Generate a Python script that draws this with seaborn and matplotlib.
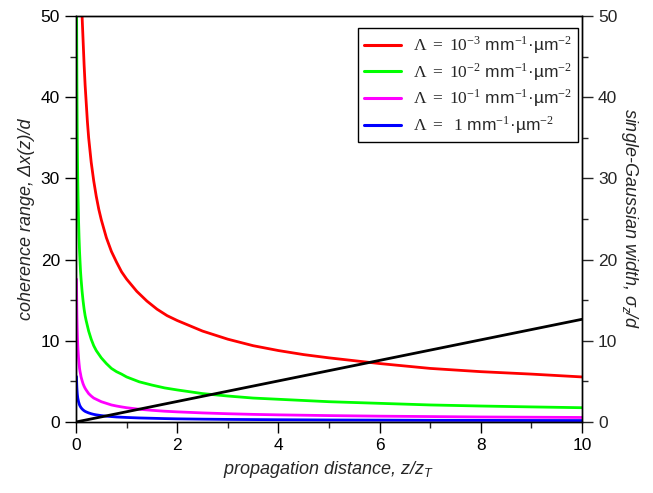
import pandas as pd
import matplotlib.pyplot as plt
import seaborn as sns
from matplotlib import font_manager
from matplotlib.ticker import MultipleLocator

# values
z_red = [0.12, 0.13, 0.14, 0.16, 0.18, 0.2, 0.225, 0.25, 0.275, 0.3, 0.35, 0.4, 0.45, 0.5, 0.6,
         0.7, 0.8, 0.9, 1.0, 1.2, 1.4, 1.6, 1.8, 2, 2.5, 3, 3.5, 4, 4.5, 5, 6, 7, 8, 9, 10]
dx_red = [50, 48.5, 47, 44, 41.5, 39.5, 37, 35, 33.5, 32, 29.7, 27.8, 26.2, 24.9, 22.7,
          21, 19.7, 18.5, 17.6, 16.1, 14.9, 13.9, 13.1, 12.5, 11.2, 10.2, 9.4, 8.8, 8.3, 7.9,
          7.2, 6.6, 6.2, 5.9, 5.55]

z_green = [0.012, 0.014, 0.016, 0.018, 0.02, 0.025, 0.03, 0.035, 0.04, 0.05, 0.06, 0.07, 0.08,
           0.09, 0.1, 0.12, 0.14, 0.16, 0.18, 0.2, 0.25, 0.3, 0.35, 0.4, 0.5, 0.6, 0.7, 0.8, 0.9,
           1, 1.25, 1.5, 1.75, 2, 2.5, 3, 3.5, 4, 5, 6, 7, 8, 9, 10]
dx_green = [50, 47, 44, 41.5, 39.5, 35, 32, 29.7, 27.8, 24.9, 22.7, 21, 19.7,
            18.5, 17.6, 16.1, 14.9, 13.9, 13.1, 12.5, 11.2, 10.2, 9.4, 8.8, 7.9, 7.2, 6.6, 6.2, 5.9,
            5.55, 4.95, 4.55, 4.2, 3.95, 3.5, 3.2, 2.95, 2.8, 2.5, 2.3, 2.1, 1.97, 1.86, 1.76]

z_small = [0.01, 0.012, 0.014, 0.016, 0.018, 0.02, 0.025, 0.03, 0.035, 0.04, 0.05, 0.06, 0.07,
           0.08, 0.09, 0.1, 0.12, 0.14, 0.16, 0.18, 0.2, 0.25, 0.3, 0.35, 0.4, 0.5, 0.6, 0.7,
           0.8, 0.9, 1, 1.25, 1.5, 1.75, 2, 2.5, 3, 3.5, 4, 5, 6, 7, 8, 9, 10]
dx_magenta = [17.6, 16.1, 14.9, 13.9, 13.1, 12.5, 11.2, 10.2, 9.4, 8.8, 7.9, 7.2, 6.6,
              6.2, 5.9, 5.55, 5.1, 4.7, 4.4, 4.15, 3.95, 3.5, 3.2, 2.95, 2.8, 2.5, 2.3, 2.1,
              1.97, 1.86, 1.76, 1.57, 1.44, 1.33, 1.25, 1.12, 1.02, 0.94, 0.88, 0.79, 0.72,
              0.67, 0.62, 0.59, 0.56]
dx_blue = [5.6, 5.1, 4.7, 4.4, 4.15, 3.95, 3.5, 3.2, 2.95, 2.8, 2.5, 2.3, 2.1,
           1.97, 1.86, 1.76, 1.61, 1.49, 1.39, 1.31, 1.25, 1.12, 1.02, 0.94, 0.88, 0.79, 0.72,
           0.67, 0.62, 0.59, 0.56, 0.5, 0.46, 0.42, 0.39, 0.35, 0.32, 0.3, 0.28, 0.25, 0.23,
           0.21, 0.2, 0.19, 0.18]

z_width = [0, 2, 4, 6, 8, 10]
sigma_width = [0, 2.53, 5.06, 7.59, 10.12, 12.65]

labels = [r'$\Lambda\;=\;10^{-3}$ mm$^{-1}$·µm$^{-2}$',
          r'$\Lambda\;=\;10^{-2}$ mm$^{-1}$·µm$^{-2}$',
          r'$\Lambda\;=\;10^{-1}$ mm$^{-1}$·µm$^{-2}$',
          r'$\Lambda\;=\;\;1$ mm$^{-1}$·µm$^{-2}$']
colors = ['#ff0000', '#00ff00', '#ff00ff', '#0000ff']

# long table for seaborn
df = pd.concat([
    pd.DataFrame({'z': z_red, 'dx': dx_red, 'lam': labels[0]}),
    pd.DataFrame({'z': z_green, 'dx': dx_green, 'lam': labels[1]}),
    pd.DataFrame({'z': z_small, 'dx': dx_magenta, 'lam': labels[2]}),
    pd.DataFrame({'z': z_small, 'dx': dx_blue, 'lam': labels[3]}),
])
df_w = pd.DataFrame({'z': z_width, 'sigma': sigma_width})

sns.set_style('ticks')
names = {f.name for f in font_manager.fontManager.ttflist}
narrow = 'Liberation Sans Narrow' if 'Liberation Sans Narrow' in names else 'Liberation Sans'
plt.rcParams['font.family'] = [narrow, 'DejaVu Sans']
plt.rcParams['mathtext.fontset'] = 'custom'
plt.rcParams['mathtext.rm'] = 'Liberation Serif'
plt.rcParams['mathtext.it'] = narrow + ':italic'
plt.rcParams['mathtext.sf'] = 'Liberation Sans'
plt.rcParams['axes.edgecolor'] = 'black'
plt.rcParams['axes.linewidth'] = 1.0

fig = plt.figure(figsize=(6.53, 4.93), dpi=100)
ax = fig.add_axes([0.1164, 0.144, 0.7749, 0.8235])

sns.lineplot(data=df, x='z', y='dx', hue='lam', palette=colors, hue_order=labels,
             linewidth=2.0, ax=ax, sort=False)
ax.set_xlim(0, 10)
ax.set_ylim(0, 50)
ax.xaxis.set_major_locator(MultipleLocator(2))
ax.xaxis.set_minor_locator(MultipleLocator(1))
ax.yaxis.set_major_locator(MultipleLocator(10))
ax.yaxis.set_minor_locator(MultipleLocator(5))
ax.tick_params(which='major', direction='out', length=8, width=1, labelsize=12.5, colors='black')
ax.tick_params(which='minor', direction='out', length=4, width=1)
ax.set_xlabel('propagation distance, z/z$_T$', fontsize=13, style='italic')
ax.set_ylabel('coherence range, Δx(z)/d', fontsize=13, style='italic')

leg = ax.legend(loc='upper right', bbox_to_anchor=(0.992, 0.970), borderaxespad=0,
                frameon=True, fancybox=False, edgecolor='black', framealpha=1,
                handlelength=2.1, handletextpad=0.7, labelspacing=0.3, borderpad=0.35,
                prop={'family': 'Liberation Sans', 'size': 12.5})
leg.get_frame().set_linewidth(1.0)
for h in leg.get_lines():
    h.set_linewidth(2.2)

ax2 = ax.twinx()
sns.lineplot(data=df_w, x='z', y='sigma', color='black', linewidth=2.0, ax=ax2)
ax2.set_ylim(0, 50)
ax2.yaxis.set_major_locator(MultipleLocator(10))
ax2.yaxis.set_minor_locator(MultipleLocator(5))
ax2.tick_params(which='major', direction='out', length=8, width=1, labelsize=12.5)
ax2.tick_params(which='minor', direction='out', length=4, width=1)
ax2.set_ylabel('single-Gaussian width, σ$_z$/d', fontsize=13, style='italic',
               rotation=270, labelpad=16)
ax2.set_xlabel('')

fig.savefig('out.png', dpi=100)
